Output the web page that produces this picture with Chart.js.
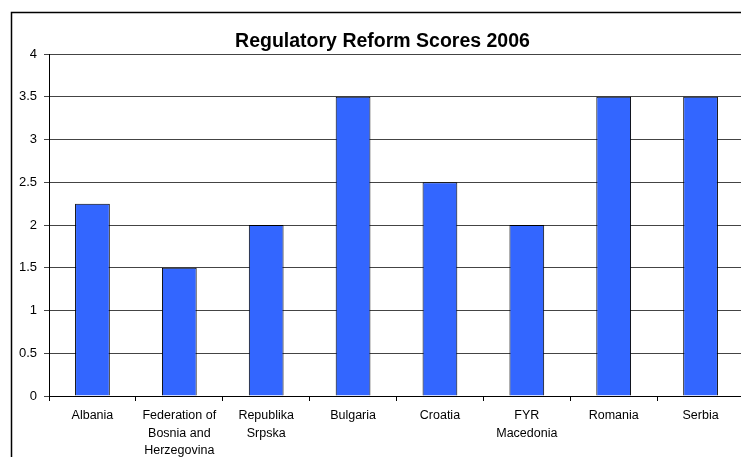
<!DOCTYPE html>
<html>
<head>
<meta charset="utf-8">
<script src="https://cdn.jsdelivr.net/npm/chart.js"></script>
<style>
  html, body { margin: 0; padding: 0; background: #fff; overflow: hidden; }
  #wrap { position: absolute; left: 0; top: 0; width: 766px; height: 470px; }
</style>
</head>
<body>
<div id="wrap"><canvas id="chart"></canvas></div>
<script>
// chart values
const categories = [
  'Albania',
  ['Federation of', 'Bosnia and', 'Herzegovina'],
  ['Republika', 'Srpska'],
  'Bulgaria',
  'Croatia',
  ['FYR', 'Macedonia'],
  'Romania',
  'Serbia'
];
const scores = [2.25, 1.5, 2, 3.5, 2.5, 2, 3.5, 3.5];
const titleText = 'Regulatory Reform Scores 2006';

const FONT = 'Liberation Sans, Arial, sans-serif';

// outer frame of the chart object (runs off right/bottom) + title
const framePlugin = {
  id: 'frame',
  beforeDraw(chart) {
    const ctx = chart.ctx;
    ctx.save();
    ctx.strokeStyle = '#000';
    ctx.lineWidth = 1.5;
    ctx.strokeRect(11.5, 12.5, chart.width + 20, chart.height + 20);
    ctx.fillStyle = '#000';
    ctx.font = 'bold 19.5px ' + FONT;
    ctx.textAlign = 'center';
    ctx.textBaseline = 'alphabetic';
    ctx.fillText(titleText, 382.5, 47);
    ctx.restore();
  }
};

new Chart(document.getElementById('chart'), {
  type: 'bar',
  data: {
    labels: categories,
    datasets: [{
      data: scores,
      backgroundColor: '#3366FF',
      borderColor: '#000',
      borderWidth: 1,
      barPercentage: 0.4,
      categoryPercentage: 1
    }]
  },
  options: {
    responsive: true,
    maintainAspectRatio: false,
    animation: false,
    layout: { padding: { left: 0, right: 22, top: 54, bottom: 0 } },
    plugins: {
      legend: { display: false },
      tooltip: { enabled: false },
      title: { display: false }
    },
    scales: {
      x: {
        offset: true,
        grid: {
          display: true,
          drawOnChartArea: false,
          offset: true,
          color: '#000',
          tickLength: 5
        },
        border: { color: '#000', width: 1 },
        ticks: {
          color: '#000',
          maxRotation: 0,
          autoSkip: false,
          padding: 6,
          font: { family: FONT, size: 12.5, lineHeight: 1.4 }
        },
        afterFit(scale) { scale.height = 74; }
      },
      y: {
        min: 0,
        max: 4,
        ticks: {
          stepSize: 0.5,
          color: '#000',
          padding: 7,
          font: { family: FONT, size: 13 },
          callback: (v) => String(v)
        },
        grid: { color: '#444', tickLength: 5, lineWidth: 1 },
        border: { color: '#000', width: 1 },
        afterFit(scale) { scale.width = 49; }
      }
    }
  },
  plugins: [framePlugin]
});
</script>
</body>
</html>
